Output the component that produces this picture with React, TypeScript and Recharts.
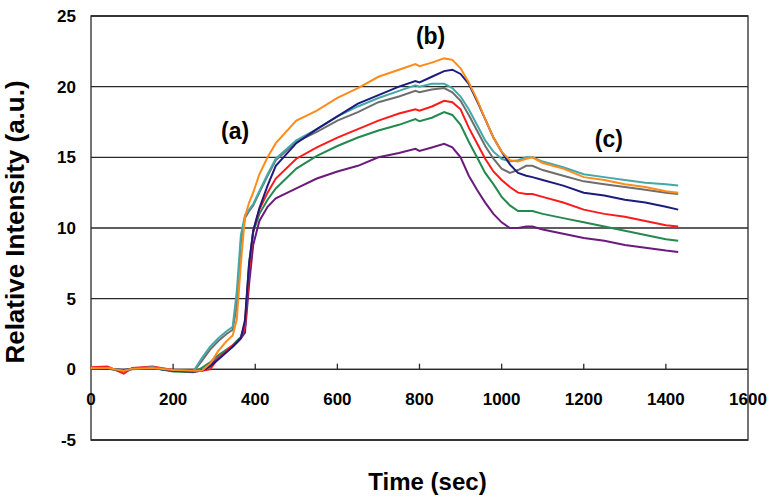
import {
  LineChart,
  Line,
  XAxis,
  YAxis,
  CartesianGrid,
  ReferenceLine,
  ReferenceArea,
  ReferenceDot
} from 'recharts'

// time axis (sec)
const times = [
  0, 40, 80, 100, 150, 200, 250, 270, 290, 310, 330, 345, 355, 365, 375, 385, 395, 410, 430, 450,
  500, 550, 600, 650, 700, 750, 790, 800, 830, 860, 880, 900, 920, 940, 960, 980, 1000, 1020, 1040,
  1060, 1075, 1100, 1150, 1200, 1250, 1300, 1350, 1400, 1430
]

const orange = [
  0.1, 0.1, -0.1, 0.05, 0.1, -0.05, -0.1, -0.1, 0.4, 1.3, 2.0, 2.4, 3.5, 7.5, 10.8, 11.8, 12.5, 13.8, 15.0, 16.0,
  17.6, 18.3, 19.2, 19.9, 20.7, 21.2, 21.6, 21.45, 21.7, 22.0, 21.9, 21.3, 20.3, 19.1, 17.7, 16.4, 15.4, 14.8, 14.7,
  14.9, 15.0, 14.6, 14.2, 13.6, 13.4, 13.1, 12.9, 12.6, 12.5
]

const navy = [
  0.1, 0.05, -0.05, 0.05, 0.1, -0.1, -0.15, -0.1, 0.2, 0.7, 1.2, 1.6, 1.9, 2.2, 3.5, 7.5, 9.8, 11.4, 13.0, 14.4,
  16.0, 17.0, 17.9, 18.8, 19.4, 20.0, 20.4, 20.3, 20.7, 21.1, 21.2, 20.9, 20.2, 19.0, 17.7, 16.4, 15.4, 14.5, 13.9,
  13.7, 13.6, 13.4, 13.0, 12.5, 12.3, 12.0, 11.8, 11.5, 11.3
]

const teal = [
  0.1, 0.1, -0.1, 0.05, 0.15, -0.1, -0.1, 0.8, 1.6, 2.2, 2.7, 3.0, 5.5, 9.5, 10.9, 11.3, 11.7, 12.6, 13.8, 14.9,
  16.2, 17.0, 17.9, 18.6, 19.2, 19.7, 20.1, 20.0, 20.2, 20.2, 19.9, 19.3, 18.4, 17.3, 16.2, 15.4, 14.9, 14.7, 14.8,
  15.0, 15.0, 14.7, 14.3, 13.8, 13.6, 13.4, 13.2, 13.1, 13.0
]

const gray = [
  0.1, 0.1, -0.1, 0.05, 0.1, -0.1, -0.15, 0.6, 1.4, 2.0, 2.5, 2.8, 4.5, 9.0, 10.7, 11.2, 11.6, 12.5, 13.7, 14.8,
  16.1, 16.8, 17.6, 18.2, 18.9, 19.3, 19.7, 19.6, 19.8, 19.9, 19.6, 19.0, 18.0, 16.9, 15.8, 14.9, 14.2, 13.9, 14.1,
  14.4, 14.4, 14.1, 13.7, 13.3, 13.1, 12.9, 12.7, 12.5, 12.4
]

const red = [
  0.15, 0.2, -0.3, 0.1, 0.2, -0.05, -0.15, -0.1, 0.0, 0.8, 1.3, 1.7, 1.9, 2.2, 3.0, 7.0, 9.8, 11.3, 12.5, 13.5,
  14.9, 15.7, 16.4, 17.0, 17.6, 18.1, 18.4, 18.3, 18.6, 19.0, 18.9, 18.4, 17.1, 16.0, 14.9, 14.0, 13.4, 12.9, 12.5,
  12.4, 12.4, 12.2, 11.8, 11.3, 11.0, 10.8, 10.5, 10.2, 10.1
]

const green = [
  0.05, 0.05, -0.15, 0.0, 0.1, -0.15, -0.2, 0.1, 0.5, 1.0, 1.4, 1.7, 2.0, 2.3, 3.2, 7.5, 9.7, 11.0, 12.0, 12.8,
  14.2, 15.1, 15.8, 16.4, 16.9, 17.3, 17.7, 17.55, 17.8, 18.2, 18.0, 17.3, 16.1, 15.0, 13.9, 13.1, 12.2, 11.6, 11.2,
  11.2, 11.2, 11.0, 10.7, 10.4, 10.1, 9.8, 9.5, 9.2, 9.1
]

const purple = [
  0.1, 0.05, -0.1, 0.05, 0.1, -0.1, -0.15, -0.1, 0.3, 0.8, 1.3, 1.6, 1.9, 2.2, 2.6, 6.0, 8.8, 10.5, 11.5, 12.1,
  12.8, 13.5, 14.0, 14.4, 15.0, 15.3, 15.6, 15.45, 15.7, 15.95, 15.7, 15.0, 13.7, 12.7, 11.8, 11.0, 10.4, 10.0, 10.0,
  10.1, 10.1, 9.9, 9.6, 9.3, 9.1, 8.8, 8.6, 8.4, 8.3
]

const yTicks = [-5, 0, 5, 10, 15, 20, 25]
const xTicks = [0, 200, 400, 600, 800, 1000, 1200, 1400, 1600]

const annotations = [
  { t: 351, v: 16.9, text: '(a)' },
  { t: 827, v: 23.6, text: '(b)' },
  { t: 1261, v: 16.3, text: '(c)' }
]

const data = times.map((t, i) => ({
  t,
  orange: orange[i],
  navy: navy[i],
  teal: teal[i],
  gray: gray[i],
  red: red[i],
  green: green[i],
  purple: purple[i]
}))

const series = [
  { key: 'purple', color: '#6a1b7c' },
  { key: 'green', color: '#23894f' },
  { key: 'red', color: '#ff1a1a' },
  { key: 'gray', color: '#6e6e6e' },
  { key: 'teal', color: '#45a8a8' },
  { key: 'navy', color: '#1c1c7e' },
  { key: 'orange', color: '#ff8c1a' }
]

const font = "Arial, 'Liberation Sans', sans-serif"

export default function App() {
  return (
    <div style={{ position: 'absolute', left: 0, top: 0, background: '#fff' }}>
      <LineChart
        width={773}
        height={500}
        data={data}
        margin={{ top: 16, right: 25, bottom: 0, left: 0 }}
      >
        <CartesianGrid vertical={false} stroke="#2a2a2a" strokeWidth={1.3} />
        <XAxis
          type="number"
          dataKey="t"
          domain={[0, 1600]}
          ticks={xTicks}
          tick={false}
          tickLine={false}
          axisLine={false}
          height={60}
          label={{
            content: (props: any) => {
              const vb = props.viewBox
              return (
                <text
                  x={vb.x + vb.width / 2 + 8}
                  y={vb.y + 50}
                  textAnchor="middle"
                  fontFamily={font}
                  fontWeight="bold"
                  fontSize={24}
                  fill="#000"
                >
                  Time (sec)
                </text>
              )
            }
          }}
        />
        <YAxis
          type="number"
          domain={[-5, 25]}
          ticks={yTicks}
          width={91}
          axisLine={false}
          tickLine={false}
          tickSize={6}
          tickMargin={9}
          tick={{ fontFamily: font, fontWeight: 'bold', fontSize: 17, fill: '#000' }}
          label={{
            content: (props: any) => {
              const vb = props.viewBox
              const cx = 24
              const cy = vb.y + vb.height / 2 - 6
              return (
                <text
                  x={cx}
                  y={cy}
                  transform={`rotate(-90, ${cx}, ${cy})`}
                  textAnchor="middle"
                  fontFamily={font}
                  fontWeight="bold"
                  fontSize={26}
                  fill="#000"
                >
                  Relative Intensity (a.u.)
                </text>
              )
            }
          }}
        />
        <ReferenceArea
          x1={0}
          x2={1600}
          y1={-5}
          y2={25}
          fill="none"
          fillOpacity={0}
          stroke="#2a2a2a"
          strokeWidth={1.3}
        />
        <ReferenceLine y={0} stroke="#2a2a2a" strokeWidth={1.3} />
        {xTicks.slice(1, -1).map((t) => (
          <ReferenceLine
            key={'tk' + t}
            segment={[{ x: t, y: 0 }, { x: t, y: 0.4 }]}
            stroke="#2a2a2a"
            strokeWidth={1.3}
          />
        ))}
        {xTicks.map((t) => (
          <ReferenceDot
            key={'tl' + t}
            x={t}
            y={0}
            r={0}
            fill="none"
            stroke="none"
            label={{
              value: String(t),
              position: 'bottom',
              offset: 24,
              fontFamily: font,
              fontWeight: 'bold',
              fontSize: 17,
              fill: '#000'
            }}
          />
        ))}
        {series.map((s) => (
          <Line
            key={s.key}
            type="linear"
            dataKey={s.key}
            stroke={s.color}
            strokeWidth={2}
            dot={false}
            isAnimationActive={false}
          />
        ))}
        {annotations.map((a) => (
          <ReferenceDot
            key={a.text}
            x={a.t}
            y={a.v}
            r={0}
            fill="none"
            stroke="none"
            label={{
              value: a.text,
              position: 'center',
              fontFamily: font,
              fontWeight: 'bold',
              fontSize: 23,
              fill: '#000'
            }}
          />
        ))}
      </LineChart>
    </div>
  )
}
